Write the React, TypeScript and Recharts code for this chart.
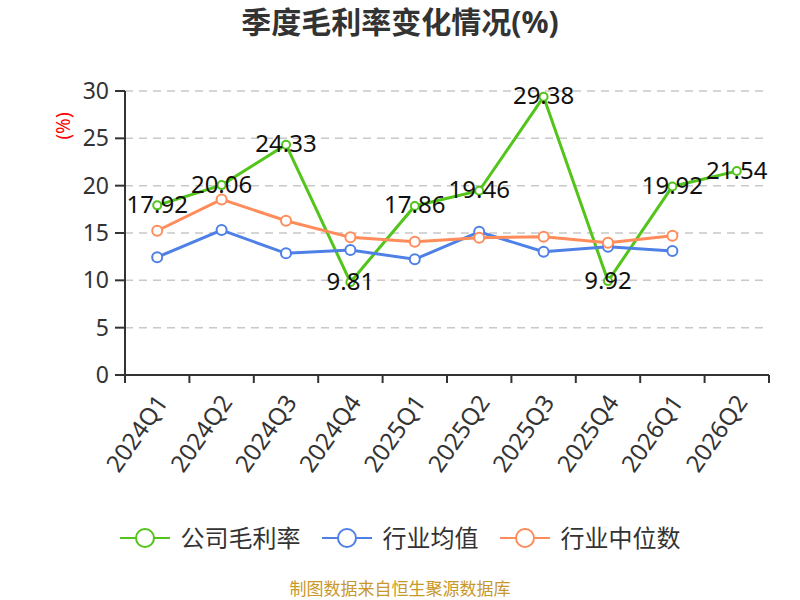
import { LineChart, Line, XAxis, YAxis, CartesianGrid, LabelList } from "recharts";

const quarters = ["2024Q1", "2024Q2", "2024Q3", "2024Q4", "2025Q1", "2025Q2", "2025Q3", "2025Q4", "2026Q1", "2026Q2"];
const companyMargin = [17.92, 20.06, 24.33, 9.81, 17.86, 19.46, 29.38, 9.92, 19.92, 21.54];
const industryAvg = [12.44, 15.31, 12.85, 13.2, 12.22, 15.13, 13.02, 13.55, 13.09, null];
const industryMedian = [15.24, 18.55, 16.3, 14.54, 14.08, 14.5, 14.6, 13.97, 14.71, null];
const yTicks = [0, 5, 10, 15, 20, 25, 30];

const series = [
  { key: "company", name: "公司毛利率", color: "#52c41a", r: 4 },
  { key: "avg", name: "行业均值", color: "#4e80e6", r: 5 },
  { key: "median", name: "行业中位数", color: "#ff8c5a", r: 5 },
];

const data = quarters.map((q, i) => ({
  q,
  company: companyMargin[i],
  avg: industryAvg[i],
  median: industryMedian[i],
}));

const FONT = '"Noto Sans", "Noto Sans CJK SC", sans-serif';
const BAND = 644 / quarters.length;

function XTick({ x, y, payload, index }: any) {
  const last = index === quarters.length - 1;
  return (
    <g>
      <line x1={x - BAND / 2} y1={y} x2={x - BAND / 2} y2={y + 8} stroke="#333" strokeWidth={2} />
      {last && <line x1={x + BAND / 2} y1={y} x2={x + BAND / 2} y2={y + 8} stroke="#333" strokeWidth={2} />}
      <text
        x={x + 4}
        y={y + 22}
        textAnchor="end"
        dominantBaseline="central"
        transform={`rotate(-55, ${x + 4}, ${y + 22})`}
        fill="#333"
        fontSize={24}
        fontFamily={FONT}
      >
        {payload.value}
      </text>
    </g>
  );
}

function ValueLabel({ x, y, value }: any) {
  return (
    <text x={x} y={y - 2} textAnchor="middle" dominantBaseline="central" fill="#111" fontSize={24} fontFamily={FONT}>
      {value}
    </text>
  );
}

export default function App() {
  return (
    <div style={{ position: "absolute", left: 0, top: 0, width: 800, height: 600, background: "#fff", fontFamily: FONT, overflow: "hidden" }}>
      <div style={{ position: "absolute", top: 4, width: 800, textAlign: "center", fontSize: 30, lineHeight: "36px", fontWeight: 700, color: "#333" }}>
        季度毛利率变化情况(%)
      </div>
      <div
        style={{
          position: "absolute",
          left: 63,
          top: 126,
          transform: "translate(-50%, -50%) rotate(-90deg)",
          color: "#ff0000",
          fontSize: 19,
          whiteSpace: "nowrap",
        }}
      >
        (%)
      </div>
      <LineChart width={800} height={600} data={data} margin={{ top: 91, right: 31, left: 65, bottom: 0 }}>
        <CartesianGrid vertical={false} stroke="#c8c8c8" strokeDasharray="8 6" strokeWidth={1.5} />
        <XAxis
          dataKey="q"
          height={225}
          interval={0}
          tickSize={0}
          tickMargin={0}
          padding={{ left: BAND / 2, right: BAND / 2 }}
          axisLine={{ stroke: "#333", strokeWidth: 2 }}
          tick={<XTick />}
        />
        <YAxis
          width={60}
          domain={[0, 30]}
          ticks={yTicks}
          tickSize={10}
          tickMargin={6}
          axisLine={{ stroke: "#333", strokeWidth: 2 }}
          tickLine={{ stroke: "#333", strokeWidth: 2 }}
          tick={{ fill: "#333", fontSize: 23, fontFamily: FONT }}
        />
        {series.map((s) => (
          <Line
            key={s.key}
            dataKey={s.key}
            name={s.name}
            type="linear"
            stroke={s.color}
            strokeWidth={3}
            dot={{ r: s.r, fill: "#fff", stroke: s.color, strokeWidth: 2 }}
            activeDot={false}
            isAnimationActive={false}
          >
            {s.key === "company" && <LabelList dataKey="company" content={<ValueLabel />} />}
          </Line>
        ))}
      </LineChart>
      <div
        style={{
          position: "absolute",
          top: 521,
          width: 800,
          display: "flex",
          justifyContent: "center",
          alignItems: "center",
          gap: 21,
          fontSize: 24,
          lineHeight: "33px",
          color: "#333",
        }}
      >
        {series.map((s) => (
          <div key={s.key} style={{ display: "flex", alignItems: "center", gap: 11 }}>
            <svg width={50} height={22}>
              <line x1={0} y1={11} x2={50} y2={11} stroke={s.color} strokeWidth={2} />
              <circle cx={25} cy={11} r={9} fill="#fff" stroke={s.color} strokeWidth={2} />
            </svg>
            <span>{s.name}</span>
          </div>
        ))}
      </div>
      <div style={{ position: "absolute", top: 579, width: 800, textAlign: "center", fontSize: 17, lineHeight: "20px", color: "#c9982a" }}>
        制图数据来自恒生聚源数据库
      </div>
    </div>
  );
}
